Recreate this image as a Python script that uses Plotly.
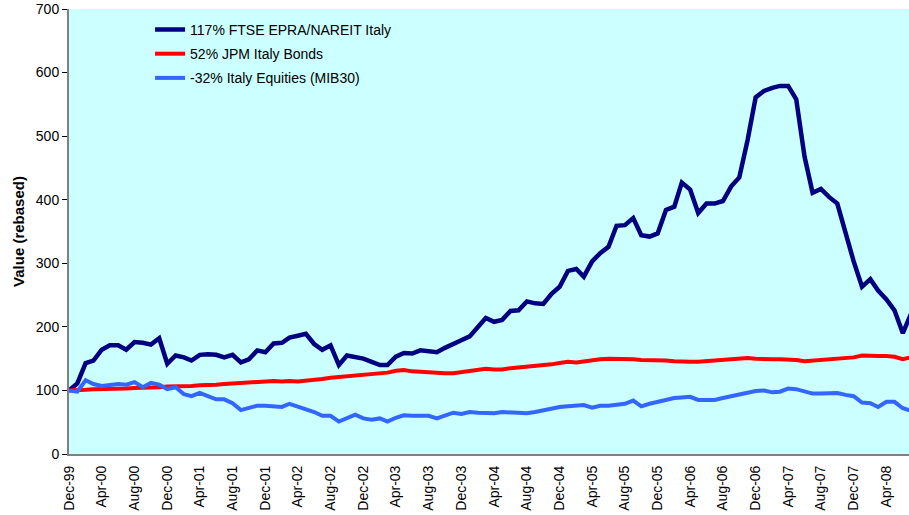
import pandas as pd
import plotly.graph_objects as go

# Monthly index levels, rebased to 100 at Dec-1999
months = pd.date_range("1999-12-01", periods=104, freq="MS")

series_names = [
    "117% FTSE EPRA/NAREIT Italy",
    "52% JPM Italy Bonds",
    "-32% Italy Equities (MIB30)",
]

epra_italy = [
    100, 111, 143, 147, 164, 171, 171, 164, 176, 175, 172, 182,
    142, 155, 152, 147, 156, 157, 156, 152, 156, 144, 149, 163,
    160, 174, 175, 183, 186, 189, 173, 164, 171, 140, 155, 152,
    150, 145, 140, 140, 153, 159, 158, 163, 162, 160, 167, 174,
    179, 185, 200, 214, 208, 211, 225, 226, 240, 237, 236, 252,
    263, 288, 291, 279, 303, 316, 326, 359, 360, 371, 344, 342,
    347, 384, 389, 427, 416, 379, 394, 394, 398, 421, 435, 494,
    561, 571, 576, 579, 579, 558, 468, 411, 417, 404, 394, 347,
    303, 263, 275, 257, 243, 226, 190, 220,
]

jpm_italy_bonds = [
    100, 100, 101, 102, 102, 103, 103, 103, 104, 104, 105, 105,
    106, 106, 107, 107, 108, 108, 109, 110, 111, 112, 113, 114,
    115, 115, 114, 115, 114, 115, 116, 118, 120, 121, 122, 124,
    125, 126, 127, 128, 131, 132, 130, 129, 128, 128, 127, 127,
    129, 131, 133, 134, 133, 133, 135, 136, 137, 138, 140, 141,
    143, 145, 144, 146, 147, 149, 150, 150, 150, 149, 148, 148,
    148, 147, 146, 145, 145, 145, 146, 147, 148, 149, 150, 151,
    150, 149, 149, 149, 149, 148, 146, 147, 148, 149, 150, 151,
    152, 155, 154, 154, 154, 153, 149, 152,
]

mib30 = [
    100, 98, 116, 110, 107, 108, 110, 109, 113, 105, 112, 109,
    102, 105, 94, 91, 96, 91, 86, 86, 80, 69, 73, 76,
    76, 75, 74, 79, 75, 70, 66, 60, 60, 51, 56, 62,
    56, 54, 56, 51, 57, 61, 60, 60, 60, 56, 61, 65,
    63, 66, 65, 65, 64, 66, 65, 65, 64, 66, 69, 71,
    74, 75, 76, 77, 73, 76, 76, 78, 79, 84, 75, 79,
    82, 86, 88, 89, 90, 85, 85, 85, 88, 91, 94, 96,
    99, 100, 97, 98, 103, 102, 99, 95, 95, 95, 96, 93,
    91, 81, 80, 74, 82, 82, 72, 68,
]

y_ticks = [0, 100, 200, 300, 400, 500, 600, 700]

colors = ["#000080", "#FF0000", "#3366FF"]
widths = [4.5, 4, 4]
values = [epra_italy, jpm_italy_bonds, mib30]

font_family = "Arial, Liberation Sans, sans-serif"

fig = go.Figure()
for i, (name, vals) in enumerate(zip(series_names, values)):
    fig.add_trace(go.Scatter(
        x=months, y=vals, name=name, mode="lines",
        legendgroup=f"g{i}",
        line=dict(color=colors[i], width=widths[i]),
    ))

fig.update_layout(
    width=909, height=515,
    margin=dict(l=69, r=0, t=9, b=61),
    paper_bgcolor="white",
    plot_bgcolor="#CCFFFF",
    font=dict(family=font_family, size=14, color="black"),
    showlegend=True,
    legend=dict(
        x=0.0965, y=0.989, xanchor="left", yanchor="top",
        bgcolor="rgba(0,0,0,0)",
        font=dict(size=14, color="black"),
        traceorder="grouped", tracegroupgap=3,
    ),
    xaxis=dict(
        type="date",
        range=["1999-12-01", "2008-06-24"],
        tick0="1999-12-01", dtick="M4", tickformat="%b-%y",
        tickangle=-90,
        showgrid=False, zeroline=False,
        showline=True, linecolor="#808080", linewidth=2,
        ticks="", ticklabelstandoff=4,
        tickfont=dict(size=14),
    ),
    yaxis=dict(
        range=[0, 700],
        tickvals=y_ticks,
        showgrid=False, zeroline=False,
        showline=True, linecolor="#808080", linewidth=2,
        ticks="outside", ticklen=5, tickcolor="black", tickwidth=1,
        tickfont=dict(size=14),
        title=dict(text="<b>Value (rebased)</b>", font=dict(size=15), standoff=8),
    ),
)

fig.write_html("out.html")
